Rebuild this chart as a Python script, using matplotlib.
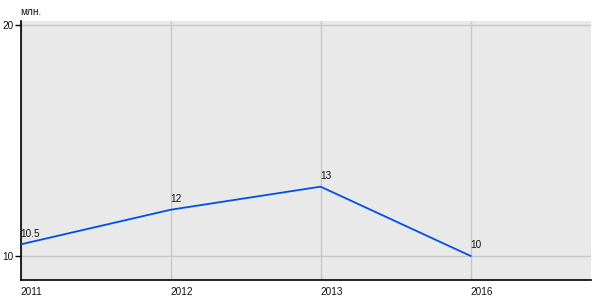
import matplotlib
matplotlib.use("Agg")
import matplotlib.pyplot as plt

categories = ["2011", "2012", "2013", "2016"]
values = [10.5, 12, 13, 10]
value_labels = ["10.5", "12", "13", "10"]
yticks = [10, 20]
unit = "млн."

plt.rcParams['font.family'] = ['Liberation Sans', 'DejaVu Sans']
FS = 7.2
TC = '#111111'

fig = plt.figure(figsize=(6, 3), dpi=100)
ax = fig.add_axes([20.5/600, 20/300, (590.7-20.5)/600, (280-21)/300])
ax.set_facecolor('#e9e9e9')
x = list(range(len(categories)))
ax.plot(x, values, color='#0050e6', lw=1.3, solid_joinstyle='miter', zorder=3)
for xi, v, lab in zip(x, values, value_labels):
    ax.annotate(lab, (xi, v), xytext=(0, 4), textcoords='offset points',
                ha='left', va='bottom', fontsize=FS, color=TC)

ax.set_xlim(0, 3.80)
ax.set_ylim(8.96, 20.17)
ax.set_xticks(x)
ax.set_xticklabels(categories, ha='left', fontsize=FS, color=TC)
ax.set_yticks(yticks)
ax.set_yticklabels([str(t) for t in yticks], fontsize=FS, color=TC)
ax.grid(True, color='#c8c8c8', lw=1)
ax.set_axisbelow(True)
ax.tick_params(axis='x', length=0, pad=5)
ax.tick_params(axis='y', length=4, width=1, color='black', pad=1)
for s in ['top', 'right']:
    ax.spines[s].set_visible(False)
ax.spines['left'].set_color('black')
ax.spines['bottom'].set_color('black')
ax.spines['left'].set_linewidth(1.2)
ax.spines['bottom'].set_linewidth(1.2)
fig.text(20.5/600, 1 - 12/300, unit, ha='left', va='center', fontsize=FS, color=TC)

fig.savefig('out.png', dpi=100)
